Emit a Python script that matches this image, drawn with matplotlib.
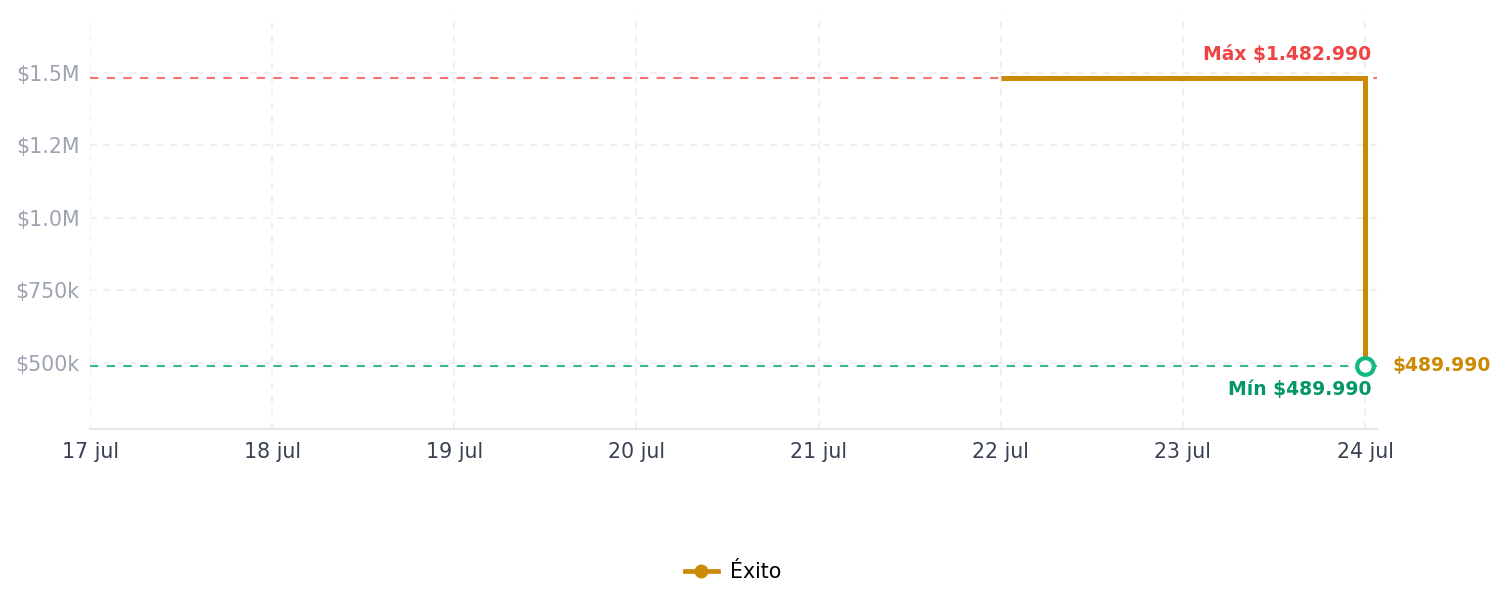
import matplotlib
matplotlib.use("Agg")
import matplotlib.pyplot as plt
from matplotlib.lines import Line2D
import datetime as dt
import matplotlib.dates as mdates

# ---- data ----
dates = ["2024-07-22", "2024-07-23", "2024-07-24"]
prices = [1482990, 1482990, 489990]
series_name = "Éxito"
max_price = 1482990
min_price = 489990
ytick_values = [500000, 750000, 1000000, 1250000, 1500000]
ytick_labels = ["$500k", "$750k", "$1.0M", "$1.2M", "$1.5M"]
xtick_days = ["2024-07-17", "2024-07-18", "2024-07-19", "2024-07-20",
              "2024-07-21", "2024-07-22", "2024-07-23", "2024-07-24"]
xtick_labels = ["17 jul", "18 jul", "19 jul", "20 jul", "21 jul", "22 jul", "23 jul", "24 jul"]
max_label = "Máx $1.482.990"
min_label = "Mín $489.990"
last_label = "$489.990"

LINE = "#ca8a04"
RED_LINE = "#f87171"
RED_TXT = "#ef4444"
GREEN_LINE = "#34b98a"
GREEN_TXT = "#059669"
GREEN_MK = "#10b981"

plt.rcParams['font.family'] = ['DejaVu Sans']

fig = plt.figure(figsize=(15.05, 6.07), dpi=100)
ax = fig.add_axes([90/1505, 1-429/607, (1377-90)/1505, (429-15)/607])

to_d = lambda s: mdates.date2num(dt.datetime.strptime(s, "%Y-%m-%d"))
xd = [to_d(s) for s in dates]
xt = [to_d(s) for s in xtick_days]

ax.axhline(max_price, color=RED_LINE, lw=1.5, ls=(0, (4, 4)), zorder=2)
ax.axhline(min_price, color=GREEN_LINE, lw=1.5, ls=(0, (4, 4)), zorder=2)

ax.plot(xd, prices, color=LINE, lw=3.6, drawstyle="steps-post", zorder=3,
        solid_capstyle="butt", solid_joinstyle="miter")
ax.plot([xd[-1]], [prices[-1]], marker="o", ms=12, mfc="white", mec=GREEN_MK,
        mew=3, ls="none", zorder=4)

ax.set_xlim(xt[0], xt[-1] + 0.066)
ax.set_ylim(272000, 1700000)

ax.set_xticks(xt)
ax.set_xticklabels(xtick_labels)
ax.set_yticks(ytick_values)
ax.set_yticklabels(ytick_labels)

ax.tick_params(axis="x", length=0, pad=9, labelsize=14.8, labelcolor="#374151")
ax.tick_params(axis="y", length=0, pad=7.5, labelsize=14.8, labelcolor="#9ca3af")

ax.grid(True, color="#ececec", ls=(0, (4, 4)), lw=1.2, zorder=0)
for s in ["left", "right", "top"]:
    ax.spines[s].set_visible(False)
ax.spines["bottom"].set_color("#e5e7eb")
ax.spines["bottom"].set_linewidth(1.5)

ax.annotate(max_label, xy=(xd[-1], max_price), xytext=(4.5, 17), textcoords="offset points",
            ha="right", va="center", color=RED_TXT, fontsize=13.5, fontweight="bold")
ax.annotate(min_label, xy=(xd[-1], min_price), xytext=(4.5, -17), textcoords="offset points",
            ha="right", va="center", color=GREEN_TXT, fontsize=13.5, fontweight="bold")
ax.annotate(last_label, xy=(xd[-1], min_price), xytext=(20, 0), textcoords="offset points",
            ha="left", va="center", color=LINE, fontsize=13.5, fontweight="bold",
            annotation_clip=False)

handle = Line2D([0], [0], color=LINE, lw=3.4, marker="o", ms=9, mfc=LINE, mec=LINE)
fig.legend([handle], [series_name], loc="center", bbox_to_anchor=(733/1505, 1-572/607),
           frameon=False, fontsize=14.8, handlelength=1.6, handletextpad=0.6)

fig.savefig("out.png", dpi=100, facecolor="white")
